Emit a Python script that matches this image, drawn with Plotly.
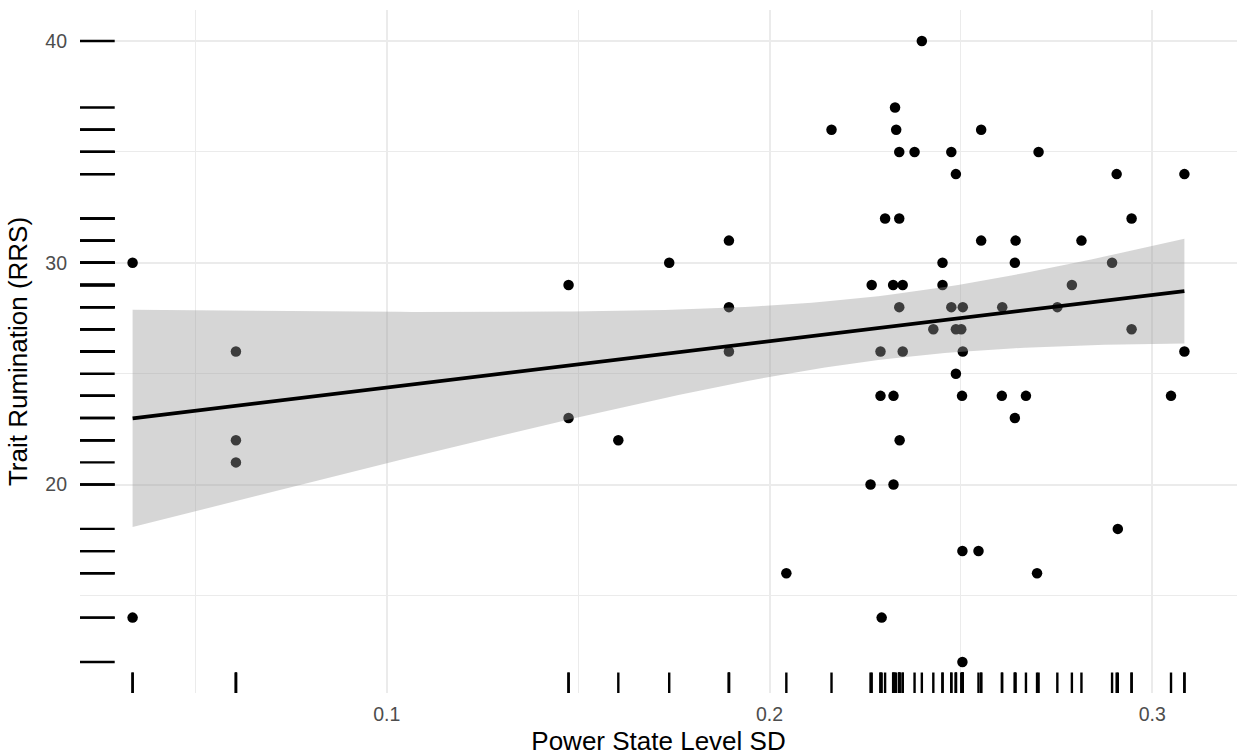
import numpy as np
import plotly.graph_objects as go

# ---- data ----
power_sd = [0.0336, 0.0336, 0.0606, 0.0606, 0.0606, 0.1475, 0.1475, 0.1605, 0.1738,
            0.1894, 0.1894, 0.1894, 0.2044, 0.2162, 0.2264, 0.2267, 0.2290, 0.2290,
            0.2293, 0.2302, 0.2323, 0.2324, 0.2324, 0.2328, 0.2331, 0.2339, 0.2339,
            0.2339, 0.2340, 0.2348, 0.2348, 0.2379, 0.2398, 0.2428, 0.2452, 0.2452,
            0.2475, 0.2475, 0.2487, 0.2487, 0.2487, 0.2501, 0.2505, 0.2505, 0.2503,
            0.2504, 0.2504, 0.2546, 0.2553, 0.2553, 0.2607, 0.2608, 0.2641, 0.2641,
            0.2643, 0.2670, 0.2699, 0.2703, 0.2752, 0.2790, 0.2815, 0.2895, 0.2907,
            0.2910, 0.2946, 0.2946, 0.3049, 0.3084, 0.3084]
rrs = [30, 14, 26, 22, 21, 29, 23, 22, 30, 31, 28, 26, 16, 36, 20, 29, 26, 24, 14, 32,
       29, 24, 20, 37, 36, 35, 32, 28, 22, 29, 26, 35, 40, 27, 30, 29, 35, 28, 34, 27,
       25, 27, 28, 26, 24, 17, 12, 17, 36, 31, 24, 28, 30, 23, 31, 24, 16, 35, 28, 29,
       31, 30, 34, 18, 32, 27, 24, 34, 26]
x_ticks = [0.1, 0.2, 0.3]
x_tick_labels = ["0.1", "0.2", "0.3"]
y_ticks = [20, 30, 40]
y_tick_labels = ["20", "30", "40"]
x_label = "Power State Level SD"
y_label = "Trait Rumination (RRS)"
T_CRIT = 1.996  # t(0.975, df = n - 2 = 67)

x = np.array(power_sd)
y = np.array(rrs, dtype=float)
n = len(x)

# linear model with 95% confidence band (like geom_smooth(method = "lm"))
slope, intercept = np.polyfit(x, y, 1)
resid = y - (intercept + slope * x)
s = np.sqrt(np.sum(resid ** 2) / (n - 2))
xbar = x.mean()
sxx = np.sum((x - xbar) ** 2)
xs = np.linspace(x.min(), x.max(), 80)
fit = intercept + slope * xs
se = s * np.sqrt(1.0 / n + (xs - xbar) ** 2 / sxx)
lo = fit - T_CRIT * se
hi = fit + T_CRIT * se

# ggplot-like 5% expansion
xr = x.max() - x.min()
yr = y.max() - y.min()
x_range = [x.min() - 0.05 * xr, x.max() + 0.05 * xr]
y_range = [y.min() - 0.05 * yr, y.max() + 0.05 * yr]

FONT = "Liberation Sans, Arial, Helvetica, sans-serif"

fig = go.Figure()
fig.add_trace(go.Scatter(x=x, y=y, mode="markers",
                         marker=dict(color="black", size=10.5, line=dict(width=0)),
                         showlegend=False, hoverinfo="x+y"))
fig.add_trace(go.Scatter(x=xs, y=lo, mode="lines", line=dict(width=0, color="rgba(0,0,0,0)"),
                         showlegend=False, hoverinfo="skip"))
fig.add_trace(go.Scatter(x=xs, y=hi, mode="lines", line=dict(width=0, color="rgba(0,0,0,0)"),
                         fill="tonexty", fillcolor="rgba(153,153,153,0.4)",
                         showlegend=False, hoverinfo="skip"))
fig.add_trace(go.Scatter(x=xs, y=fit, mode="lines", line=dict(color="black", width=3.8),
                         showlegend=False, hoverinfo="skip"))

# rugs
for xv in power_sd:
    fig.add_shape(type="line", xref="x", yref="paper", x0=xv, x1=xv, y0=0, y1=0.03,
                  line=dict(color="black", width=2.4), layer="above")
for yv in rrs:
    fig.add_shape(type="line", xref="paper", yref="y", x0=0, x1=0.03, y0=yv, y1=yv,
                  line=dict(color="black", width=2.4), layer="above")

fig.update_layout(
    width=1238, height=756,
    margin=dict(l=80, r=1, t=10, b=63),
    paper_bgcolor="white", plot_bgcolor="white",
    font=dict(family=FONT),
    showlegend=False,
    xaxis=dict(
        range=x_range, tickmode="array", tickvals=x_ticks, ticktext=x_tick_labels,
        showgrid=True, gridcolor="#EBEBEB", gridwidth=2,
        minor=dict(tick0=0.05, dtick=0.1, showgrid=True, gridcolor="#EBEBEB", gridwidth=1.2),
        zeroline=False, showline=False, ticks="",
        tickfont=dict(size=19.5, color="#4D4D4D", family=FONT),
        ticklabelstandoff=7,
        title=dict(text=x_label, font=dict(size=26, color="black", family=FONT), standoff=8),
    ),
    yaxis=dict(
        range=y_range, tickmode="array", tickvals=y_ticks, ticktext=y_tick_labels,
        showgrid=True, gridcolor="#EBEBEB", gridwidth=2,
        minor=dict(tick0=15, dtick=10, showgrid=True, gridcolor="#EBEBEB", gridwidth=1.2),
        zeroline=False, showline=False, ticks="",
        tickfont=dict(size=19.5, color="#4D4D4D", family=FONT),
        ticklabelstandoff=12,
        title=dict(text=y_label, font=dict(size=26, color="black", family=FONT), standoff=10),
    ),
)

fig.write_html("out.html")
